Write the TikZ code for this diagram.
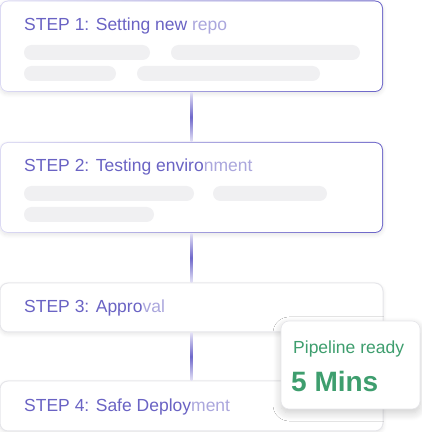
\documentclass[tikz,border=0pt]{standalone}
\usepackage{fontspec}
\setmainfont{Liberation Sans}
\usetikzlibrary{shadows.blur}
\definecolor{txt}{HTML}{6A63C4}
\definecolor{txtl}{HTML}{ABA7DD}
\definecolor{grn}{HTML}{3E9E6E}
\definecolor{bar}{HTML}{F0F0F2}
\definecolor{gborder}{HTML}{E6E6EA}
\definecolor{lavl}{HTML}{DCDAF3}
\definecolor{lavd}{HTML}{6B64C8}
\definecolor{connl}{HTML}{E4E2F6}
\definecolor{connd}{HTML}{6E67CA}
\tikzset{
  boxnode/.style={minimum width=383pt, minimum height=#1, inner sep=0pt, rounded corners=8pt},
  softshadow/.style={blur shadow={shadow blur steps=8, shadow xshift=0pt, shadow yshift=-2pt, shadow opacity=10, shadow blur radius=4pt}},
  graybox/.style={boxnode=#1, draw=gborder, fill=white, line width=1pt, softshadow},
  steptxt/.style={anchor=base west, font=\fontsize{17.5}{20}\selectfont, text=txt, inner sep=0pt},
  barbox/.style={fill=bar, rounded corners=7.5pt},
  card/.style={fill=white, draw=gborder, line width=0.6pt, rounded corners=8pt,
     minimum width=139pt, minimum height=88pt, inner sep=0pt,
     blur shadow={shadow blur steps=12, shadow xshift=0pt, shadow yshift=-4pt, shadow opacity=20, shadow blur radius=8pt}}
}
\begin{document}
\begin{tikzpicture}[x=1pt,y=1pt]
\useasboundingbox (0,0) rectangle (422,432);
% box 1 gradient border
\fill[white, softshadow, rounded corners=8pt] (0,431.5) rectangle (383,340);
\shade[left color=lavl, right color=lavd, rounded corners=8pt] (0,431.5) rectangle (383,340);
\fill[white, rounded corners=7pt] (1,430.5) rectangle (382,341);
\node[boxnode=91.5pt] (box1) at (191.5,385.75) {};
% box 2
\fill[white, softshadow, rounded corners=8pt] (0,290) rectangle (383,199);
\shade[left color=lavl, right color=lavd, rounded corners=8pt] (0,290) rectangle (383,199);
\fill[white, rounded corners=7pt] (1,289) rectangle (382,200);
\node[boxnode=91pt] (box2) at (191.5,244.5) {};
% box 3, 4
\node[graybox=49pt] (box3) at (191.5,124.5) {};
\node[graybox=50pt] (box4) at (191.5,26) {};
% connectors (vertical gradient lines)
\shade[top color=connl, bottom color=connl, middle color=connd] ([xshift=-0.8pt]box1.south) rectangle ([xshift=0.8pt]box2.north);
\shade[top color=connl, bottom color=connl, middle color=connd] ([xshift=-0.8pt]box2.south) rectangle ([xshift=0.8pt]box3.north);
\shade[top color=connl, bottom color=connl, middle color=connd] ([xshift=-0.8pt]box3.south) rectangle ([xshift=0.8pt]box4.north);
% texts
\node[steptxt] (t1) at (24,401) {STEP 1: Setting new \textcolor{txtl}{repo}};
\node[steptxt] (t2) at (24,260) {STEP 2: Testing enviro\textcolor{txtl}{nment}};
\node[steptxt] (t3) at (24,119) {STEP 3: Appro\textcolor{txtl}{val}};
\node[steptxt] (t4) at (24,20) {STEP 4: Safe Deploy\textcolor{txtl}{ment}};
% bars
\fill[barbox] (24,387) rectangle (150,372);
\fill[barbox] (171,387) rectangle (360,372);
\fill[barbox] (24,366) rectangle (116,351);
\fill[barbox] (137,366) rectangle (320,351);
\fill[barbox] (24,246) rectangle (194,231);
\fill[barbox] (213,246) rectangle (327,231);
\fill[barbox] (24,225) rectangle (154,210);
% card
\node[card] (card) at (350.5,67) {};
\node[anchor=base west, inner sep=0pt, text=grn, font=\fontsize{17.5}{20}\selectfont] (pr) at (293,78) {Pipeline ready};
\node[anchor=base west, inner sep=0pt, text=grn, font=\fontsize{28}{32}\selectfont\bfseries] (mins) at (291,41) {5 Mins};
\end{tikzpicture}
\end{document}
